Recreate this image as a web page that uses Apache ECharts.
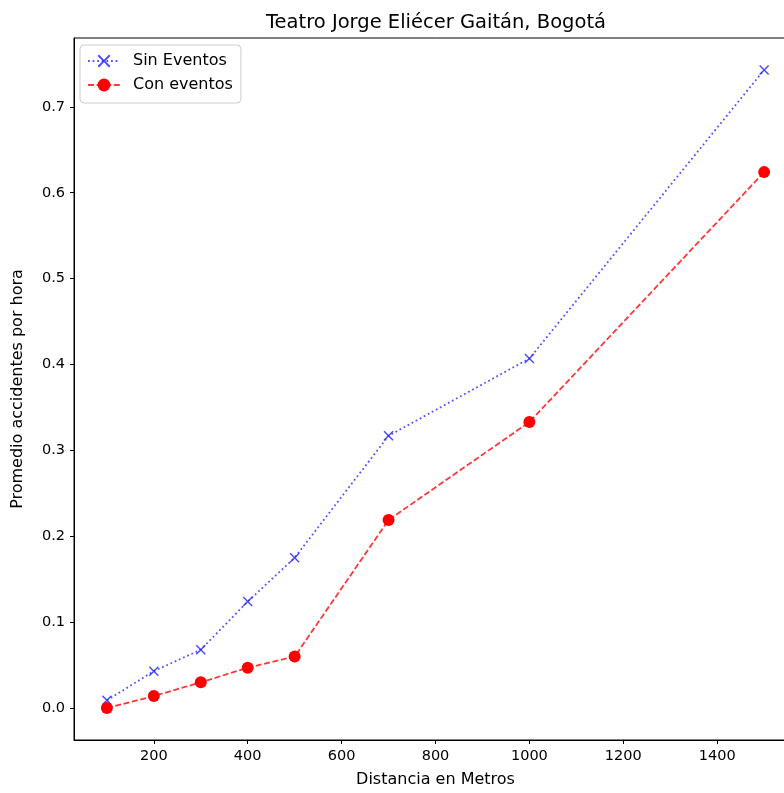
<!DOCTYPE html>
<html><head><meta charset="utf-8">
<script src="https://cdn.jsdelivr.net/npm/echarts@6/dist/echarts.min.js"></script>
<style>html,body{margin:0;padding:0;background:#fff;overflow:hidden;width:784px;height:793px}#c{width:797px;height:793px}</style>
</head><body><div id="c"></div>
<script>
const distances = [100, 200, 300, 400, 500, 700, 1000, 1500];
const sinEventos = [0.009, 0.043, 0.068, 0.124, 0.175, 0.317, 0.407, 0.743];
const conEventos = [0.000, 0.014, 0.030, 0.047, 0.060, 0.219, 0.333, 0.624];
const xTicks = [200, 400, 600, 800, 1000, 1200, 1400];
const yTicks = [0.0, 0.1, 0.2, 0.3, 0.4, 0.5, 0.6, 0.7];
const titleText = 'Teatro Jorge Eliécer Gaitán, Bogotá';
const xName = 'Distancia en Metros';
const yName = 'Promedio accidentes por hora';

const FONT = 'DejaVu Sans';
const xSpan = distances[distances.length-1] - distances[0];
const xMin = distances[0] - 0.05 * xSpan, xMax = distances[distances.length-1] + 0.05 * xSpan;
const allY = sinEventos.concat(conEventos);
const yLo = Math.min(...allY), yHi = Math.max(...allY);
const ySpan = yHi - yLo;
const yMin = yLo - 0.05 * ySpan, yMax = yHi + 0.05 * ySpan;

const xSym = 'path://M0,1L1,0L5,4L9,0L10,1L6,5L10,9L9,10L5,6L1,10L0,9L4,5Z';
const chart = echarts.init(document.getElementById('c'), null, {renderer: 'canvas'});
chart.setOption({
  animation: false,
  backgroundColor: '#fff',
  title: {text: titleText, left: 431, top: 8, textAlign: 'center',
    textStyle: {fontFamily: FONT, fontSize: 19.5, fontWeight: 'normal', color: '#000'}},
  grid: {left: 74, top: 38, right: 0, bottom: 45, show: true, borderColor: '#000', borderWidth: 1, containLabel: false},
  legend: {
    orient: 'vertical', left: 80, top: 45, padding: [8, 8, 10, 7], itemGap: 8,
    itemWidth: 32, itemHeight: 16,
    backgroundColor: '#fff', borderColor: '#ccc', borderWidth: 1, borderRadius: 4,
    textStyle: {fontFamily: FONT, fontSize: 16, color: '#000', padding: [0,0,0,8]},
    data: ['Sin Eventos', 'Con eventos']
  },
  xAxis: {
    type: 'value', min: xMin, max: xMax,
    name: xName, nameLocation: 'middle', nameGap: 32,
    nameTextStyle: {fontFamily: FONT, fontSize: 16, color: '#000'},
    axisLine: {show: true, onZero: false, lineStyle: {color: '#000'}},
    axisTick: {show: true, length: 4, customValues: xTicks, lineStyle: {color: '#000'}},
    axisLabel: {customValues: xTicks, fontFamily: FONT, fontSize: 14.5, color: '#000', margin: 9,
      formatter: v => String(v)},
    splitLine: {show: false}
  },
  yAxis: {
    type: 'value', min: yMin, max: yMax,
    name: yName, nameLocation: 'middle', nameGap: 48, nameRotate: 90,
    nameTextStyle: {fontFamily: FONT, fontSize: 16, color: '#000'},
    axisLine: {show: true, onZero: false, lineStyle: {color: '#000'}},
    axisTick: {show: true, length: 4, customValues: yTicks, lineStyle: {color: '#000'}},
    axisLabel: {customValues: yTicks, fontFamily: FONT, fontSize: 14.5, color: '#000', margin: 9,
      formatter: v => v.toFixed(1)},
    splitLine: {show: false}
  },
  series: [
    {name: 'Sin Eventos', type: 'line', data: distances.map((d, i) => [d, sinEventos[i]]),
     symbol: xSym, symbolSize: 10,
     itemStyle: {color: 'rgba(40,40,255,0.85)'},
     lineStyle: {color: 'rgba(40,40,255,0.8)', width: 1.8, type: [1.8, 2.8]}},
    {name: 'Con eventos', type: 'line', data: distances.map((d, i) => [d, conEventos[i]]),
     symbol: 'circle', symbolSize: 12,
     itemStyle: {color: '#ff0000'},
     lineStyle: {color: 'rgba(255,20,20,0.85)', width: 1.8, type: [6, 2.6]}}
  ]
});
</script></body></html>
